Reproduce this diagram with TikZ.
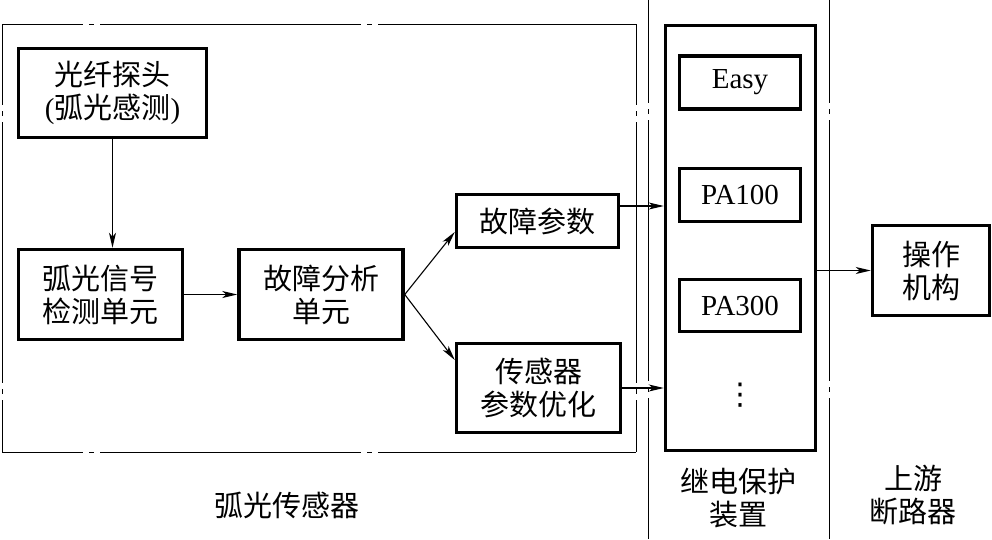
\documentclass[tikz,border=0pt]{standalone}
\usepackage{fontspec}
\setmainfont{Liberation Serif}
\newfontfamily\cjk{Noto Sans CJK SC}
\newfontfamily\symb{DejaVu Sans}
\usetikzlibrary{arrows.meta, positioning}
\tikzset{
  >={Stealth[length=15pt,width=7pt,inset=4pt]},
  block/.style={draw, line width=3.5pt, align=center, inner sep=0pt,
    font=\cjk\fontsize{29}{33}\selectfont},
  model/.style={block, font=\fontsize{29}{33}\selectfont,
    minimum width=121pt, minimum height=53pt},
  caption/.style={align=center, font=\cjk\fontsize{29}{33}\selectfont},
  frame/.style={line width=1pt, dash pattern=on 261pt off 6pt on 5pt off 6pt},
}

\begin{document}
\begin{tikzpicture}[x=1pt, y=-1pt]
      \useasboundingbox (0,0) rectangle (992,539);

      % frames
      \draw[frame, dash phase=180pt] (2,24) -- (2,452) (2,24) -- (636,24)
            (2,452) -- (636,452) (636,24) -- (636,452);
      \draw[frame, dash phase=158pt] (648,0) -- (648,539) (829,0) -- (829,539);

      % arc sensor
      \node[block, minimum width=188pt, minimum height=89pt] (probe) at (112.5,93)
            {光纤探头\\{\rmfamily(}弧光感测{\rmfamily)}};
      \node[block, minimum width=164pt, minimum height=90pt] (detect) at (100.5,294.5)
            {弧光信号\\检测单元};
      \node[block, minimum width=164pt, minimum height=90pt, right=53pt of detect] (analysis)
            {故障分析\\单元};
      \node[block, minimum width=162pt, minimum height=53pt] (faultpar) at (537.5,221)
            {故障参数};
      \node[block, minimum width=164pt, minimum height=89pt] (sensopt) at (538.5,388)
            {传感器\\参数优化};

      % relay protection
      \node[block, minimum width=150pt, minimum height=425pt] (relay) at (740.5,238) {};
      \node[model] (easy) at (740,82.5) {Easy};
      \node[model] (pa100) at (740,195) {PA100};
      \node[model, minimum height=52pt] (pa300) at (740,305.5) {PA300};
      \node[font=\symb\fontsize{30}{34}\selectfont, inner sep=0pt] (more) at (740,395) {⋮};

      % breaker
      \node[block, minimum width=117pt, minimum height=90pt] (actuator) at (931,270.5)
            {操作\\机构};

      \node[caption] (sensorcap) at (287,505) {弧光传感器};
      \node[caption] (relaycap) at (738,498) {继电保护\\装置};
      \node[caption] (breakercap) at (913,495) {上游\\断路器};

      \draw[line width=1.1pt] (probe.south) edge[->] (probe.south |- detect.north)
            (detect) edge[->] (analysis)
            (analysis.east) edge[->] ([yshift=-11pt]faultpar.west)
            (analysis.east) edge[->] ([yshift=28pt]sensopt.west)
            ([yshift=15pt]faultpar.east) edge[->] ([yshift=15pt]faultpar.east -| relay.west)
            (sensopt.east) edge[->] (sensopt.east -| relay.west)
            (actuator.west -| relay.east) edge[->] (actuator.west);
    \end{tikzpicture}
\end{document}
